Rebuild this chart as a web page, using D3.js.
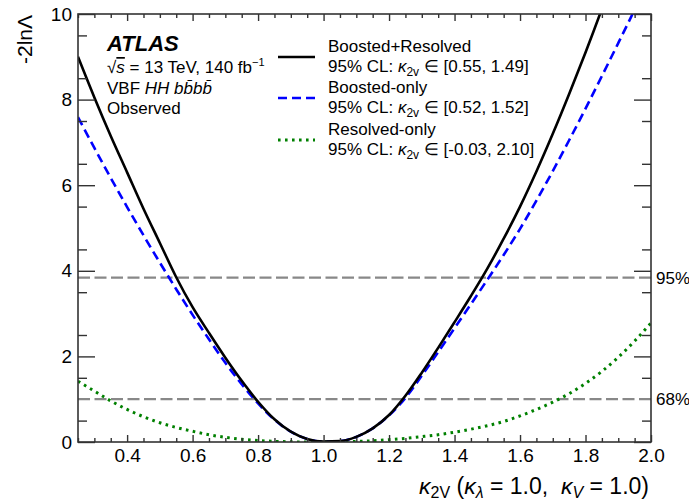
<!DOCTYPE html>
<html>
<head>
<meta charset="utf-8">
<title>kappa2V scan</title>
<script src="https://d3js.org/d3.v7.min.js"></script>
<style>
  body { margin: 0; background: #fff; }
  text { font-family: "Liberation Sans", Arial, Helvetica, sans-serif; fill: #000; white-space: pre; }
</style>
</head>
<body>
<div id="chart"></div>
<script>
// scan points (same kappa_2V grid for all three scans)
var k2v = [0.25, 0.30, 0.35, 0.40, 0.45, 0.50, 0.55, 0.60, 0.65, 0.70, 0.75, 0.80,
           0.85, 0.90, 0.95, 1.00, 1.05, 1.10, 1.15, 1.20, 1.25, 1.30, 1.35, 1.40,
           1.45, 1.50, 1.55, 1.60, 1.65, 1.70, 1.75, 1.80, 1.85, 1.90, 1.95, 2.00];

var nllComb = [9.00, 8.05, 7.15, 6.30, 5.45, 4.65, 3.85, 3.15, 2.55, 1.97, 1.43, 0.94,
               0.53, 0.24, 0.07, 0.01, 0.02, 0.12, 0.32, 0.63, 1.08, 1.62, 2.20, 2.80,
               3.41, 4.05, 4.75, 5.50, 6.32, 7.20, 8.13, 9.10, 10.12, 11.2, 12.3, 13.4];

var nllBoost = [7.59, 6.87, 6.17, 5.49, 4.83, 4.19, 3.57, 2.97, 2.40, 1.85, 1.35, 0.90,
                0.52, 0.24, 0.07, 0.01, 0.02, 0.12, 0.32, 0.62, 1.03, 1.55, 2.10, 2.66,
                3.22, 3.79, 4.37, 4.98, 5.64, 6.33, 7.05, 7.79, 8.55, 9.32, 10.10, 10.90];

var nllResol = [1.42, 1.19, 0.96, 0.76, 0.59, 0.45, 0.34, 0.25, 0.17, 0.11, 0.065, 0.035,
                0.015, 0.005, 0.0, 0.0, 0.003, 0.012, 0.03, 0.055, 0.085, 0.125, 0.17, 0.23,
                0.30, 0.38, 0.48, 0.61, 0.76, 0.93, 1.13, 1.37, 1.65, 1.98, 2.36, 2.78];

var clLevels = [1.0, 3.84];
var clLabels = ["68%", "95%"];

var xTicks = [0.4, 0.6, 0.8, 1.0, 1.2, 1.4, 1.6, 1.8, 2.0];
var yTicks = [0, 2, 4, 6, 8, 10];

var W = 689, H = 504;
var margin = {top: 14, right: 38, bottom: 62, left: 78};
var width = W - margin.left - margin.right,
    height = H - margin.top - margin.bottom;

var svg = d3.select("#chart").append("svg")
  .attr("width", W).attr("height", H);
var g = svg.append("g")
  .attr("transform", "translate(" + margin.left + "," + margin.top + ")");

var x = d3.scaleLinear().domain([0.25, 2.0]).range([0, width]);
var y = d3.scaleLinear().domain([0, 10]).range([height, 0]);

svg.append("defs").append("clipPath").attr("id", "plotclip")
  .append("rect").attr("width", width).attr("height", height);

// horizontal CL lines
g.selectAll(".cl").data(clLevels).enter().append("line")
  .attr("x1", 0).attr("x2", width)
  .attr("y1", function (d) { return y(d); })
  .attr("y2", function (d) { return y(d); })
  .attr("stroke", "#888").attr("stroke-width", 2.2)
  .attr("stroke-dasharray", "12,4.5");

g.selectAll(".cllab").data(clLevels).enter().append("text")
  .attr("x", width + 5)
  .attr("y", function (d) { return y(d) + 6; })
  .style("font-size", "17px")
  .text(function (d, i) { return clLabels[i]; });

var line = d3.line()
  .x(function (d) { return x(d[0]); })
  .y(function (d) { return y(d[1]); })
  .curve(d3.curveMonotoneX);

var curves = [
  {v: nllResol, color: "#008000", dash: "2.6,4.4", w: 3},
  {v: nllBoost, color: "#0000ff", dash: "9,5", w: 2.6},
  {v: nllComb, color: "#000", dash: null, w: 2.6}
];

var plot = g.append("g").attr("clip-path", "url(#plotclip)");
curves.forEach(function (c) {
  plot.append("path")
    .datum(d3.zip(k2v, c.v))
    .attr("d", line)
    .attr("fill", "none")
    .attr("stroke", c.color)
    .attr("stroke-width", c.w)
    .attr("stroke-dasharray", c.dash);
});

// axes, ticks inward
var axisCol = "#333";
function styleAxis(sel) {
  sel.selectAll("line").attr("stroke", axisCol).attr("stroke-width", 1.4);
  sel.select(".domain").remove();
  sel.selectAll("text").style("font-size", "19px").attr("fill", "#000");
}
var xMinor = d3.range(0.25, 2.0001, 0.05).filter(function (v) {
  return Math.abs(Math.round(v * 5) - v * 5) > 1e-6;
});
var yMinor = d3.range(0.5, 10, 1);

g.append("g").attr("transform", "translate(0," + height + ")")
  .call(d3.axisBottom(x).tickValues(xTicks).tickFormat(d3.format(".1f")).tickSize(-7).tickPadding(7))
  .call(styleAxis);
g.append("g").attr("transform", "translate(0," + height + ")")
  .call(d3.axisBottom(x).tickValues(xMinor).tickFormat("").tickSize(-4))
  .call(styleAxis);
g.append("g")
  .call(d3.axisTop(x).tickValues(xTicks).tickFormat("").tickSize(-7))
  .call(styleAxis);
g.append("g")
  .call(d3.axisTop(x).tickValues(xMinor).tickFormat("").tickSize(-4))
  .call(styleAxis);

g.append("g")
  .call(d3.axisLeft(y).tickValues(yTicks).tickFormat(d3.format("d")).tickSize(-17).tickPadding(6))
  .call(styleAxis);
g.append("g")
  .call(d3.axisLeft(y).tickValues(yMinor).tickFormat("").tickSize(-9))
  .call(styleAxis);
g.append("g").attr("transform", "translate(" + width + ",0)")
  .call(d3.axisRight(y).tickValues(yTicks).tickFormat("").tickSize(-17))
  .call(styleAxis);
g.append("g").attr("transform", "translate(" + width + ",0)")
  .call(d3.axisRight(y).tickValues(yMinor).tickFormat("").tickSize(-9))
  .call(styleAxis);

g.append("rect").attr("width", width).attr("height", height)
  .attr("fill", "none").attr("stroke", axisCol).attr("stroke-width", 1.6);

// axis titles
svg.append("text")
  .attr("transform", "translate(32,15) rotate(-90)")
  .attr("text-anchor", "end")
  .style("font-size", "21px")
  .text("-2ln\u039B");

var xt = svg.append("text")
  .attr("x", margin.left + width - 2).attr("y", 494)
  .attr("text-anchor", "end")
  .style("font-size", "23px");
xt.append("tspan").style("font-style", "italic").text("\u03BA");
xt.append("tspan").attr("dy", 4).style("font-size", "16px").text("2V");
xt.append("tspan").attr("dy", -4).text(" (");
xt.append("tspan").style("font-style", "italic").text("\u03BA");
xt.append("tspan").attr("dy", 4).style("font-size", "16px").style("font-style", "italic").text("\u03BB");
xt.append("tspan").attr("dy", -4).text(" = 1.0,  ");
xt.append("tspan").style("font-style", "italic").text("\u03BA");
xt.append("tspan").attr("dy", 4).style("font-size", "16px").style("font-style", "italic").text("V");
xt.append("tspan").attr("dy", -4).text(" = 1.0)");

// ATLAS label block
svg.append("text").attr("x", 107).attr("y", 51)
  .style("font-size", "22px").style("font-weight", "bold").style("font-style", "italic")
  .text("ATLAS");
var t1 = svg.append("text").attr("x", 107).attr("y", 73).style("font-size", "17px");
t1.append("tspan").text("\u221A");
t1.append("tspan").style("font-style", "italic").style("text-decoration", "overline").text("s");
t1.append("tspan").text(" = 13 TeV, 140 fb");
t1.append("tspan").attr("dy", -7).style("font-size", "11px").text("\u22121");
var t2 = svg.append("text").attr("x", 107).attr("y", 94).style("font-size", "17px");
t2.append("tspan").text("VBF ");
t2.append("tspan").style("font-style", "italic").text("HH b\u0062\u0304b\u0062\u0304");
svg.append("text").attr("x", 107).attr("y", 114).style("font-size", "17px").text("Observed");

// legend
var legend = [
  {name: "Boosted+Resolved", lo: "0.55", hi: "1.49", y: 52},
  {name: "Boosted-only", lo: "0.52", hi: "1.52", y: 93},
  {name: "Resolved-only", lo: "-0.03", hi: "2.10", y: 135}
];
legend.forEach(function (l, i) {
  var c = curves[2 - i];
  svg.append("line")
    .attr("x1", 278).attr("x2", 315)
    .attr("y1", l.y + 5).attr("y2", l.y + 5)
    .attr("stroke", c.color).attr("stroke-width", c.w)
    .attr("stroke-dasharray", c.dash);
  svg.append("text").attr("x", 328).attr("y", l.y).style("font-size", "17px").text(l.name);
  var t = svg.append("text").attr("x", 328).attr("y", l.y + 20).style("font-size", "17px");
  t.append("tspan").text("95% CL: ");
  t.append("tspan").style("font-style", "italic").text("\u03BA");
  t.append("tspan").attr("dy", 4).style("font-size", "12px").text("2v");
  t.append("tspan").attr("dy", -4).text(" \u2208 [" + l.lo + ", " + l.hi + "]");
});
</script>
</body>
</html>
